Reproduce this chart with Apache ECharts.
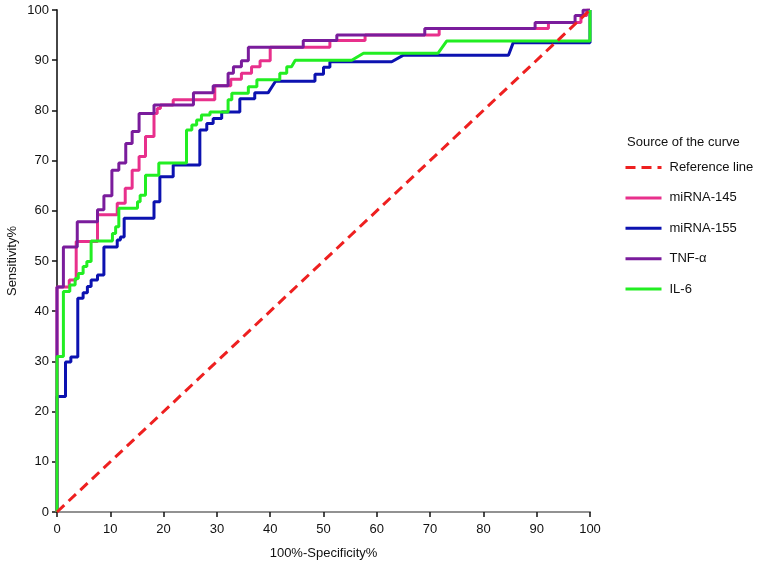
<!DOCTYPE html>
<html><head><meta charset="utf-8">
<script src="https://cdn.jsdelivr.net/npm/echarts/dist/echarts.min.js"></script>
<style>html,body{margin:0;padding:0;background:#fff}#c{width:765px;height:568px}</style>
</head><body><div id="c"></div>
<script>
const seriesNames = ['Reference line', 'miRNA-145', 'miRNA-155', 'TNF-\u03b1', 'IL-6'];
const xTicks = [0,10,20,30,40,50,60,70,80,90,100];
const refPoints = [[0,0],[100,100]];
const mir145Points = [[0,0],[0,44.8],[2.3,44.8],[2.3,46.2],[3.6,46.2],[3.6,53.9],[7.6,53.9],[7.6,59.2],[11.3,59.2],[11.3,61.5],[12.8,61.5],[12.8,64.5],[14.1,64.5],[14.1,68.1],[15.4,68.1],[15.4,70.8],[16.6,70.8],[16.6,74.8],[18.2,74.8],[18.2,79.4],[18.8,79.4],[18.8,80.4],[19.4,80.4],[19.4,81.1],[21.8,81.1],[21.8,82.1],[29.6,82.1],[29.6,84.9],[32.6,84.9],[32.6,86.2],[34.6,86.2],[34.6,87.4],[36.5,87.4],[36.5,88.7],[38.1,88.7],[38.1,89.9],[40,89.9],[40,92.6],[51.2,92.6],[51.2,93.9],[57.8,93.9],[57.8,95],[71.7,95],[71.7,96.3],[92.2,96.3],[92.2,97.5],[98.3,97.5],[98.3,98.9],[99.4,98.9],[99.4,100],[100,100]];
const mir155Points = [[0,0],[0,23],[1.6,23],[1.6,29.9],[2.6,29.9],[2.6,30.9],[3.9,30.9],[3.9,42.6],[4.9,42.6],[4.9,43.7],[5.7,43.7],[5.7,44.9],[6.4,44.9],[6.4,46.2],[7.6,46.2],[7.6,47.2],[8.8,47.2],[8.8,52.8],[11.3,52.8],[11.3,54.2],[11.9,54.2],[11.9,54.8],[12.6,54.8],[12.6,58.5],[18.2,58.5],[18.2,61.8],[19.3,61.8],[19.3,66.8],[21.8,66.8],[21.8,69.1],[26.8,69.1],[26.8,76.1],[28.1,76.1],[28.1,77.4],[29.3,77.4],[29.3,78.4],[30.9,78.4],[30.9,79.7],[34.3,79.7],[34.3,82.3],[37.1,82.3],[37.1,83.5],[39.6,83.5],[41,85.8],[48.4,85.8],[48.4,87.2],[50,87.2],[50,88.6],[51.2,88.6],[51.2,89.7],[62.8,89.7],[65,91],[84.7,91],[85.6,93.5],[100,93.5],[100,100]];
const tnfPoints = [[0,0],[0,44.8],[1.2,44.8],[1.2,52.8],[3.8,52.8],[3.8,57.8],[7.6,57.8],[7.6,60.2],[8.8,60.2],[8.8,63],[10.3,63],[10.3,68.1],[11.6,68.1],[11.6,69.5],[12.9,69.5],[12.9,73.4],[14.1,73.4],[14.1,75.8],[15.4,75.8],[15.4,79.4],[18.2,79.4],[18.2,81.1],[25.6,81.1],[25.6,83.5],[29.3,83.5],[29.3,84.9],[32.1,84.9],[32.1,87.4],[33.1,87.4],[33.1,88.7],[34.6,88.7],[34.6,89.9],[35.9,89.9],[35.9,92.6],[46.2,92.6],[46.2,93.9],[52.5,93.9],[52.5,95],[69,95],[69,96.3],[89.7,96.3],[89.7,97.5],[97.2,97.5],[97.2,98.9],[98.7,98.9],[98.7,100],[100,100]];
const il6Points = [[0,0],[0,31],[1.2,31],[1.2,43.9],[2.4,43.9],[2.4,45.2],[3.4,45.2],[3.4,46.5],[4,46.5],[4,47.5],[4.9,47.5],[4.9,48.9],[5.6,48.9],[5.6,49.9],[6.4,49.9],[6.4,54],[10.4,54],[10.4,55.5],[11,55.5],[11,56.8],[11.6,56.8],[11.6,60.5],[15.1,60.5],[15.1,61.8],[15.6,61.8],[15.6,63.1],[16.6,63.1],[16.6,67.1],[19.1,67.1],[19.1,69.5],[24.3,69.5],[24.3,76.1],[25.3,76.1],[25.3,77.1],[26.2,77.1],[26.2,78.1],[27.1,78.1],[27.1,79.1],[28.7,79.1],[28.7,79.7],[32.1,79.7],[32.1,82.1],[32.8,82.1],[32.8,83.4],[35.9,83.4],[35.9,84.7],[37.5,84.7],[37.5,86.1],[41.8,86.1],[41.8,87.4],[43.1,87.4],[43.1,88.7],[44,88.7],[44.7,90],[55.3,90],[57.5,91.4],[71.5,91.4],[73.1,93.8],[100,93.8],[100,100]];

const FONT = '"Liberation Sans", Arial, Helvetica, sans-serif';
const colors = {ref:'#ee2020', m145:'#e8308c', m155:'#0c12b0', tnf:'#7a1c9c', il6:'#22ee22'};
function line(name, data, color, z, dash) {
  return {name, type:'line', data, symbol:'none', z, silent:true,
    lineStyle:{color, width:3, type: dash || 'solid'}, itemStyle:{color}};
}
const chart = echarts.init(document.getElementById('c'), null, {renderer:'canvas'});
chart.setOption({
  animation:false,
  backgroundColor:'#fff',
  textStyle:{fontFamily:FONT},
  title:{text:'Source of the curve', left:622, top:131,
    textStyle:{fontSize:13, fontWeight:'normal', color:'#111', fontFamily:FONT}},
  legend:{orient:'vertical', left:619, top:156, icon:'inherit', itemWidth:36, itemHeight:14, itemGap:17.4,
    itemStyle:{opacity:0}, lineStyle:{width:3},
    textStyle:{fontSize:13, color:'#111', fontFamily:FONT, padding:[0,0,0,3]}, data:seriesNames},
  grid:{left:57, right:175, top:10, bottom:56, containLabel:false, outerBoundsMode:'none'},
  xAxis:[{type:'value', min:0, max:100, interval:10, position:'bottom',
    name:'100%-Specificity%', nameLocation:'middle', nameGap:35, nameMoveOverlap:false,
    nameTextStyle:{fontSize:13, color:'#111', fontFamily:FONT},
    axisLine:{lineStyle:{color:'#111', width:1.5}},
    axisTick:{length:5, lineStyle:{color:'#111', width:1.5}},
    axisLabel:{fontSize:13, color:'#111', margin:11, fontFamily:FONT,
      formatter:v => xTicks.includes(v) ? String(v) : ''},
    splitLine:{show:false}},
   {type:'value', min:0, max:100, position:'top', axisLine:{show:true, lineStyle:{color:'#aaa', width:1.5}},
    axisTick:{show:false}, axisLabel:{show:false}, splitLine:{show:false}}],
  yAxis:[{type:'value', min:0, max:100, interval:10, position:'left',
    name:'Sensitivity%', nameLocation:'middle', nameGap:38, nameRotate:90, nameMoveOverlap:false,
    nameTextStyle:{fontSize:13, color:'#111', fontFamily:FONT},
    axisLine:{show:true, lineStyle:{color:'#111', width:1.5}},
    axisTick:{show:true, length:5, lineStyle:{color:'#111', width:1.5}},
    axisLabel:{fontSize:13, color:'#111', margin:8, fontFamily:FONT},
    splitLine:{show:false}},
   {type:'value', min:0, max:100, position:'right', axisLine:{show:true, lineStyle:{color:'#444', width:1.5}},
    axisTick:{show:false}, axisLabel:{show:false}, splitLine:{show:false}}],
  series:[
    line(seriesNames[0], refPoints, colors.ref, 6, [10,6]),
    line(seriesNames[1], mir145Points, colors.m145, 3),
    line(seriesNames[2], mir155Points, colors.m155, 2),
    line(seriesNames[3], tnfPoints, colors.tnf, 4),
    line(seriesNames[4], il6Points, colors.il6, 5)
  ]
});
</script></body></html>
